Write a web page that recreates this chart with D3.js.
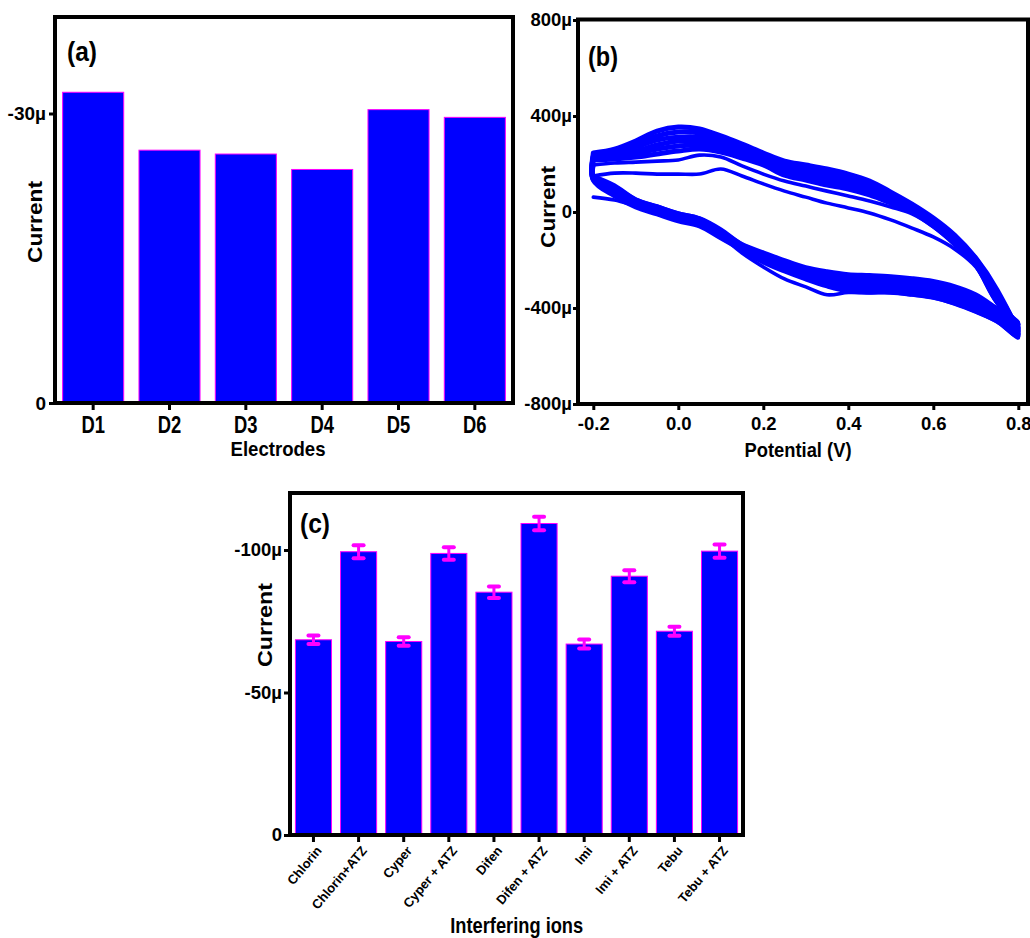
<!DOCTYPE html>
<html><head><meta charset="utf-8">
<script src="https://cdn.jsdelivr.net/npm/d3@7"></script>
<style>
body{margin:0;background:#fff}
svg text{font-family:"Liberation Sans",Arial,sans-serif;font-weight:bold;fill:#000}
</style>
</head><body>
<svg id="chart" width="1030" height="938"></svg>
<script>
// ---------- data ----------
// (a) current per electrode (µA)
const electrodes = ["D1","D2","D3","D4","D5","D6"];
const electrodeCurrent = [-32.2, -26.2, -25.8, -24.2, -30.4, -29.6];
const ticksA = [0, -30];

// (b) cyclic voltammograms: potential grid (V) and currents (µA), cycle by cycle
const cvPotential = [-0.2,-0.15,-0.1,-0.05,0,0.05,0.1,0.15,0.2,0.25,0.3,0.35,0.4,0.45,0.5,0.55,0.6,0.65,0.7,0.75,0.8];
// forward sweep (-0.2 -> 0.8), lower branch
const cvForward = [
  [62,50,25,0,-25,-50,-100,-171,-229,-279,-312,-345,-335,-337,-337,-346,-358,-383,-417,-458,-525],
  [150,112,54,25,-4,-25,-71,-133,-167,-200,-229,-246,-258,-262,-267,-275,-287,-308,-342,-400,-458],
  [146,104,50,21,-8,-29,-79,-137,-175,-208,-237,-258,-271,-275,-279,-287,-300,-321,-354,-408,-467],
  [146,96,42,12,-17,-37,-83,-142,-179,-217,-246,-267,-283,-287,-287,-296,-308,-333,-367,-417,-479],
  [142,87,37,8,-21,-42,-92,-146,-187,-225,-254,-279,-296,-300,-300,-308,-321,-346,-379,-429,-487],
  [137,83,33,4,-25,-46,-96,-150,-196,-229,-262,-287,-304,-308,-312,-321,-333,-354,-387,-437,-496],
  [137,75,25,-4,-33,-54,-104,-154,-200,-237,-271,-300,-317,-321,-321,-329,-342,-367,-400,-446,-508],
  [133,67,21,-8,-37,-58,-108,-158,-208,-246,-279,-308,-329,-333,-333,-342,-354,-379,-412,-454,-517]
];
// reverse sweep (0.8 -> -0.2), upper branch, listed at the same ascending potentials
const cvReverse = [
  [150,162,162,158,158,158,179,150,117,87,62,37,17,-4,-33,-67,-104,-154,-229,-379,-525],
  [196,204,208,212,217,237,229,192,158,129,108,87,67,46,21,-8,-62,-137,-225,-379,-458],
  [217,221,229,242,254,262,250,225,196,154,133,112,96,71,37,0,-58,-129,-221,-375,-467],
  [221,229,242,262,275,279,262,237,204,167,146,125,108,83,46,8,-50,-121,-217,-367,-479],
  [229,237,254,279,296,296,275,250,217,179,158,137,121,96,54,12,-46,-117,-208,-354,-487],
  [233,246,271,300,312,312,292,258,225,187,171,154,133,104,67,21,-37,-108,-204,-346,-496],
  [242,254,283,317,333,329,304,271,237,200,183,167,146,117,75,25,-33,-104,-196,-333,-508],
  [246,262,296,337,354,346,317,283,246,212,196,179,158,129,83,33,-25,-96,-192,-325,-517]
];
const ticksBx = [-0.2, 0, 0.2, 0.4, 0.6, 0.8];
const ticksBy = [-800, -400, 0, 400, 800];

// (c) interference study (µA)
const ions = ["Chlorin","Chlorin+ATZ","Cyper","Cyper + ATZ","Difen","Difen + ATZ","Imi","Imi + ATZ","Tebu","Tebu + ATZ"];
const ionCurrent = [-68.5, -99.4, -67.9, -98.8, -85.2, -109.3, -67.0, -90.8, -71.5, -99.6];
const ionError = [1.5, 2.3, 1.5, 2.2, 2.0, 2.4, 1.6, 2.1, 1.6, 2.3];
const ticksC = [0, -50, -100];

// ---------- helpers ----------
const svg = d3.select("#chart");
const BLUE = "#0000FF", MAG = "#FF00FF";
const FONT = '"Liberation Sans",Arial,sans-serif';
function fmtMicro(d){ return d === 0 ? "0" : (d < 0 ? "-" : "") + Math.abs(d) + "µ"; }
function fit(sel, f){
  sel.each(function(){
    const w = this.getComputedTextLength();
    this.setAttribute("textLength", w * f);
    this.setAttribute("lengthAdjust", "spacingAndGlyphs");
  });
}
function styleAxis(g, fs){
  g.select(".domain").remove();
  g.selectAll(".tick line").attr("stroke", "#000").attr("stroke-width", 3);
  g.selectAll(".tick text").attr("font-size", fs).attr("fill", "#000")
    .style("font-family", FONT).style("font-weight", "bold");
}
function frame(x, y, w, h){
  svg.append("rect").attr("x", x).attr("y", y).attr("width", w).attr("height", h)
    .attr("fill", "none").attr("stroke", "#000").attr("stroke-width", 4);
}
function label(txt, x, y, fs, len, rot){
  const t = svg.append("text").attr("text-anchor", "middle").attr("font-size", fs)
    .attr("transform", `translate(${x},${y})` + (rot ? ` rotate(${rot})` : "")).text(txt);
  if (len) { t.attr("textLength", len).attr("lengthAdjust", "spacingAndGlyphs"); }
  return t;
}

// ---------- panel (a) ----------
{
  const x = d3.scaleBand().domain(electrodes).range([55, 513]).paddingInner(0.2).paddingOuter(0.1);
  const y = d3.scaleLinear().domain([0, -40]).range([403, 17]);
  svg.append("g").selectAll("rect").data(electrodes).join("rect")
    .attr("x", d => x(d)).attr("width", x.bandwidth())
    .attr("y", (d, i) => y(electrodeCurrent[i]))
    .attr("height", (d, i) => y(0) - y(electrodeCurrent[i]))
    .attr("fill", BLUE).attr("stroke", MAG).attr("stroke-width", 1);
  const gy = svg.append("g").attr("transform", "translate(55,0)")
    .call(d3.axisLeft(y).tickValues(ticksA).tickSize(6).tickPadding(3).tickFormat(fmtMicro));
  styleAxis(gy, 19);
  const gx = svg.append("g").attr("transform", "translate(0,403)")
    .call(d3.axisBottom(x).tickSize(7).tickPadding(3));
  styleAxis(gx, 23);
  gx.selectAll(".tick text").attr("y", 29.5).attr("dy", null);
  fit(gx.selectAll(".tick text"), 0.8);
  frame(55, 17, 458, 386);
  label("Electrodes", 278, 456, 21, 95);
  label("Current", 41.5, 222, 21, 82, -90);
  svg.append("text").attr("x", 67).attr("y", 61).attr("font-size", 28)
    .attr("textLength", 30).attr("lengthAdjust", "spacingAndGlyphs").text("(a)");
}

// ---------- panel (b) ----------
{
  const x = d3.scaleLinear().domain([-0.2, 0.8]).range([593.3, 1018.3]);
  const y = d3.scaleLinear().domain([-800, 800]).range([404, 20]);
  const line = d3.line().x(d => x(d[0])).y(d => y(d[1])).curve(d3.curveCatmullRom.alpha(0.5));
  const gcv = svg.append("g").attr("fill", "none").attr("stroke", BLUE)
    .attr("stroke-linejoin", "round").attr("stroke-linecap", "round");
  // draw the band cycles first (thick, overlapping), then the two early cycles on top
  const order = [2, 3, 4, 5, 6, 7, 1, 0];
  order.forEach(c => {
    const fw = cvForward[c], rv = cvReverse[c];
    const pts = [];
    if (c > 0) pts.push([cvPotential[0], cvReverse[c - 1][0]]); // joins previous cycle's end
    cvPotential.forEach((e, i) => pts.push([e, fw[i]]));
    for (let i = cvPotential.length - 2; i >= 0; i--) pts.push([cvPotential[i], rv[i]]);
    gcv.append("path").attr("d", line(pts)).attr("stroke-width", c >= 2 ? 5 : 3.6);
  });
  const gy = svg.append("g").attr("transform", "translate(578,0)")
    .call(d3.axisLeft(y).tickValues(ticksBy).tickSize(5).tickPadding(1).tickFormat(fmtMicro));
  styleAxis(gy, 18.5);
  const gx = svg.append("g").attr("transform", "translate(0,404)")
    .call(d3.axisBottom(x).tickValues(ticksBx).tickSize(6).tickPadding(3)
      .tickFormat(d => (d < 0 ? "-" : "") + Math.abs(d).toFixed(1)));
  styleAxis(gx, 18.5);
  gx.selectAll(".tick text").attr("y", 26).attr("dy", null);
  frame(578, 19.5, 450, 384.5);
  label("Potential (V)", 798, 457, 21, 107);
  label("Current", 555, 207, 21, 82, -90);
  svg.append("text").attr("x", 588).attr("y", 66).attr("font-size", 28)
    .attr("textLength", 30).attr("lengthAdjust", "spacingAndGlyphs").text("(b)");
}

// ---------- panel (c) ----------
{
  const x = d3.scaleBand().domain(ions).range([290, 743]).paddingInner(0.2).paddingOuter(0.12);
  const y = d3.scaleLinear().domain([0, -120]).range([835, 493]);
  svg.append("g").selectAll("rect").data(ions).join("rect")
    .attr("x", d => x(d)).attr("width", x.bandwidth())
    .attr("y", (d, i) => y(ionCurrent[i]))
    .attr("height", (d, i) => y(0) - y(ionCurrent[i]))
    .attr("fill", BLUE).attr("stroke", MAG).attr("stroke-width", 1);
  const eb = svg.append("g").attr("stroke", MAG);
  ions.forEach((d, i) => {
    const cx = x(d) + x.bandwidth() / 2;
    const lo = y(ionCurrent[i] + ionError[i]), hi = y(ionCurrent[i] - ionError[i]);
    eb.append("line").attr("x1", cx).attr("x2", cx).attr("y1", lo).attr("y2", hi).attr("stroke-width", 3);
    [lo, hi].forEach(v => eb.append("line").attr("x1", cx - 5).attr("x2", cx + 5)
      .attr("y1", v).attr("y2", v).attr("stroke-width", 4).attr("stroke-linecap", "round"));
  });
  const gy = svg.append("g").attr("transform", "translate(290,0)")
    .call(d3.axisLeft(y).tickValues(ticksC).tickSize(6).tickPadding(2).tickFormat(fmtMicro));
  styleAxis(gy, 18.5);
  const gx = svg.append("g").attr("transform", "translate(0,835)")
    .call(d3.axisBottom(x).tickSize(7).tickPadding(3).tickFormat(() => ""));
  styleAxis(gx, 12);
  // rotated category labels, end of text just right of the tick
  svg.append("g").selectAll("text").data(ions).join("text")
    .attr("text-anchor", "end").style("font-size", "13px")
    .attr("x", 0).attr("y", 0)
    .attr("transform", d => `translate(${x(d) + x.bandwidth() / 2 + 9},851) rotate(-50)`)
    .text(d => d);
  frame(290, 493, 453, 342);
  label("Interfering ions", 516.7, 932.5, 21.5, 133);
  label("Current", 271.5, 625, 21, 84, -90);
  svg.append("text").attr("x", 300).attr("y", 533).attr("font-size", 27)
    .attr("textLength", 30).attr("lengthAdjust", "spacingAndGlyphs").text("(c)");
}
</script>
</body></html>
